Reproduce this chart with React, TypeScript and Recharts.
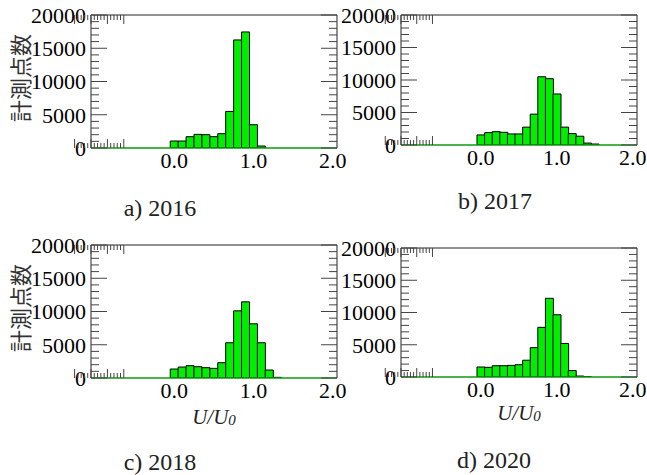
import React from 'react'
import { ComposedChart, Bar, XAxis, YAxis, ReferenceLine } from 'recharts'

// histogram bins (centre of each 0.1 wide class of U/U0)
const bins = [0.0, 0.1, 0.2, 0.3, 0.4, 0.5, 0.6, 0.7, 0.8, 0.9, 1.0, 1.1, 1.2, 1.3, 1.4, 1.5]

const counts2016 = [1050, 1050, 1700, 2050, 2000, 1700, 2150, 5500, 16250, 17450, 3500, 300, 0, 0, 0, 0]
const counts2017 = [1550, 1900, 2050, 1950, 1700, 1700, 2750, 4750, 10500, 10200, 7850, 2750, 1750, 1350, 300, 150]
const counts2018 = [1350, 1650, 1850, 1700, 1550, 1450, 2300, 5300, 10100, 11450, 8150, 5300, 1200, 100, 0, 0]
const counts2020 = [1550, 1500, 1750, 1750, 1800, 1900, 2600, 4550, 7700, 12200, 9650, 5200, 1000, 150, 50, 0]

const xTicks = [0, 1, 2]
const yTicks = [0, 5000, 10000, 15000, 20000]
const xMinorTicks = [-1.0, -0.8, -0.6, -0.4, -0.2, 0.0, 0.2, 0.4, 0.6, 0.8, 1.0, 1.2, 1.4, 1.6, 1.8, 2.0]
const yMinorTicks = [
  0, 1000, 2000, 3000, 4000, 5000, 6000, 7000, 8000, 9000, 10000,
  11000, 12000, 13000, 14000, 15000, 16000, 17000, 18000, 19000, 20000,
]

const X_MIN = -1.05
const X_MAX = 2.055
const Y_MAX = 20000
const MARGIN_TOP = 15
const X_AXIS_H = 27

const serif = '"Liberation Serif", "Times New Roman", serif'
const tickStyle = { fontSize: 22, fill: '#000', fontFamily: serif }
const frameColor = '#222'
const tickColor = '#444'

type Side = 'top' | 'bottom' | 'left' | 'right'

// short inward tick drawn at the axis-line position given by recharts
function TickMark(props: any) {
  const { x, y, payload, side } = props as { x: number; y: number; payload: { value: number }; side: Side }
  const v = payload.value
  if (side === 'top' || side === 'bottom') {
    const len = Math.abs(v - Math.round(v)) < 1e-6 ? 9 : 5
    const dir = side === 'bottom' ? -1 : 1
    return <line x1={x} x2={x} y1={y} y2={y + dir * len} stroke={tickColor} />
  }
  const len = v % 5000 === 0 ? 16 : 8
  const dir = side === 'left' ? 1 : -1
  return <line x1={x} x2={x + dir * len} y1={y} y2={y} stroke={tickColor} />
}

const frameX = (side: 'top' | 'bottom') => ({
  xAxisId: side,
  type: 'number' as const,
  domain: [X_MIN, X_MAX],
  allowDataOverflow: true,
  ticks: xMinorTicks,
  interval: 0,
  orientation: side,
  mirror: true,
  height: 1,
  axisLine: side === 'top' ? { stroke: frameColor } : false,
  tickLine: false,
  tickSize: 0,
  tickMargin: 0,
  tick: (p: any) => <TickMark {...p} side={side} />,
})

const frameY = (side: 'left' | 'right') => ({
  yAxisId: side,
  type: 'number' as const,
  domain: [0, Y_MAX],
  allowDataOverflow: true,
  ticks: yMinorTicks,
  interval: 0,
  orientation: side,
  mirror: true,
  width: 1,
  axisLine: { stroke: frameColor },
  tickLine: false,
  tickSize: 0,
  tickMargin: 0,
  tick: (p: any) => <TickMark {...p} side={side} />,
})

type PanelProps = {
  counts: number[]
  left: number
  top: number
  width: number
  height: number
  yAxisWidth: number
  marginLeft: number
  marginRight: number
}

function Panel({ counts, left, top, width, height, yAxisWidth, marginLeft, marginRight }: PanelProps) {
  const data = bins.map((x, i) => ({ x, n: counts[i] }))

  return (
    <div style={{ position: 'absolute', left, top }}>
      <ComposedChart
        width={width}
        height={height}
        data={data}
        margin={{ top: MARGIN_TOP, right: marginRight, bottom: 0, left: marginLeft }}
        barCategoryGap={0}
        barGap={0}
        style={{ overflow: 'visible' }}
      >
        <XAxis
          type="number"
          dataKey="x"
          domain={[X_MIN, X_MAX]}
          allowDataOverflow
          ticks={xTicks}
          interval={0}
          tickFormatter={(v: number) => v.toFixed(1)}
          axisLine={false}
          tickLine={false}
          tickSize={0}
          tickMargin={4}
          height={X_AXIS_H}
          tick={tickStyle}
        />
        <YAxis
          type="number"
          domain={[0, Y_MAX]}
          allowDataOverflow
          ticks={yTicks}
          interval={0}
          axisLine={false}
          tickLine={false}
          tickSize={0}
          tickMargin={5}
          width={yAxisWidth}
          tick={tickStyle}
        />
        <XAxis {...frameX('bottom')} />
        <XAxis {...frameX('top')} />
        <YAxis {...frameY('left')} />
        <YAxis {...frameY('right')} />
        <Bar dataKey="n" fill="#00ee00" stroke="#000" strokeWidth={1} isAnimationActive={false} />
        <ReferenceLine y={0} stroke="#119911" strokeWidth={1.5} ifOverflow="visible" />
      </ComposedChart>
    </div>
  )
}

function XLabel({ x, y }: { x: number; y: number }) {
  return (
    <text x={x} y={y} textAnchor="middle" dominantBaseline="central" fontFamily={serif} fontStyle="italic" fontSize={21} fill="#222">
      U/U
      <tspan fontSize={15} dy={3}>0</tspan>
    </text>
  )
}

function YLabel({ x, y }: { x: number; y: number }) {
  return (
    <text
      x={x}
      y={y}
      transform={`rotate(-90 ${x} ${y})`}
      textAnchor="middle"
      dominantBaseline="central"
      fontFamily='"Noto Sans CJK JP", sans-serif'
      fontSize={22}
      fill="#333"
    >
      計測点数
    </text>
  )
}

function Caption({ x, y, text }: { x: number; y: number; text: string }) {
  return (
    <text x={x} y={y} textAnchor="middle" dominantBaseline="central" fontFamily={serif} fontSize={24} fill="#222">
      {text}
    </text>
  )
}

export default function App() {
  return (
    <div style={{ position: 'absolute', left: 0, top: 0, width: 647, height: 475, overflow: 'hidden', background: '#fff' }}>
      <Panel counts={counts2016} left={0} top={0} width={360} height={175} yAxisWidth={80} marginLeft={11} marginRight={23} />
      <Panel counts={counts2017} left={315} top={0} width={332} height={172} yAxisWidth={86} marginLeft={0} marginRight={10} />
      <Panel counts={counts2018} left={0} top={230} width={360} height={175} yAxisWidth={80} marginLeft={11} marginRight={23} />
      <Panel counts={counts2020} left={315} top={233} width={332} height={171} yAxisWidth={86} marginLeft={0} marginRight={10} />
      <svg width={647} height={475} style={{ position: 'absolute', left: 0, top: 0, pointerEvents: 'none' }}>
        <YLabel x={19} y={78} />
        <YLabel x={19} y={308} />
        <XLabel x={214} y={417} />
        <XLabel x={519} y={413} />
        <Caption x={160} y={208} text="a) 2016" />
        <Caption x={495} y={201} text="b) 2017" />
        <Caption x={160} y={462} text="c) 2018" />
        <Caption x={494} y={460} text="d) 2020" />
      </svg>
    </div>
  )
}
